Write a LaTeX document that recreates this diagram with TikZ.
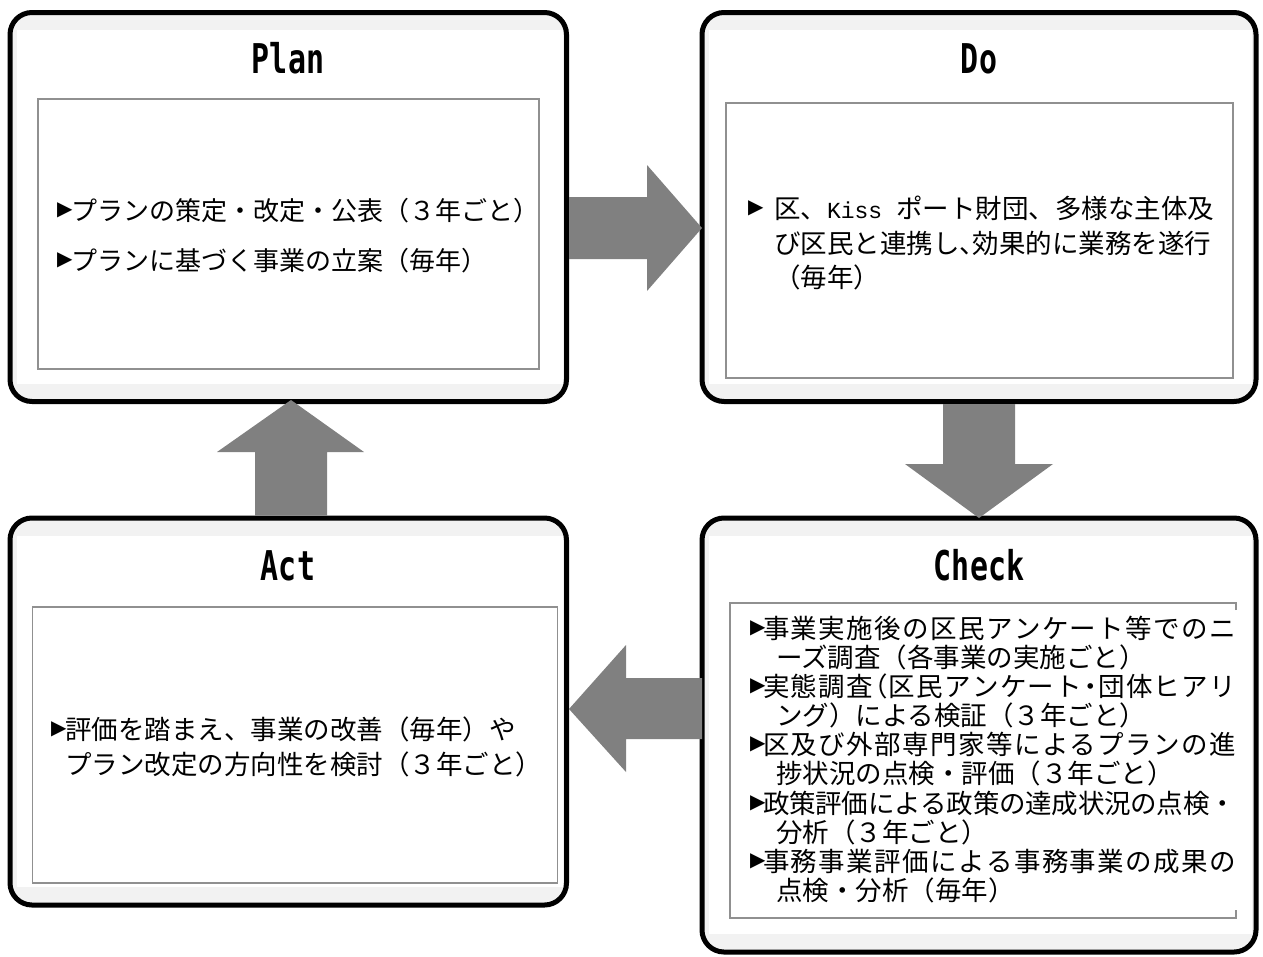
\documentclass[tikz,border=0pt]{standalone}
\usepackage{fontspec}
\usetikzlibrary{calc}
\newfontfamily\jp{Noto Sans CJK JP}
\newfontfamily\jph{Noto Sans CJK JP}[RawFeature=+halt]
\newfontfamily\trifont{DejaVu Sans}
\newfontfamily\ttlfont{DejaVu Sans Mono}
\newfontfamily\kmono{Liberation Mono}
\definecolor{boxgray}{HTML}{F2F2F2}
\definecolor{arrowgray}{HTML}{808080}
\definecolor{innergray}{HTML}{909090}
\newcommand\hw[1]{{\jph #1}}
\newcommand\bul[1]{\makebox[#1][l]{\raisebox{4.5pt}{\trifont\fontsize{20}{20}\selectfont ▶}}}
\makeatletter
\newcommand\spreadto[2]{\makebox[#1][s]{\@tfor\mych:=#2\do{\mych\hskip 0pt plus 1fil minus 1pt\relax}\unskip}}
\makeatother
\tikzset{
  outerbox/.style={draw=black, line width=5pt, fill=boxgray, rounded corners=22pt,
    inner sep=0pt, outer sep=0pt, anchor=north west},
  inbox/.style={draw=innergray, line width=1.3pt},
  blockarrow/.style={fill=arrowgray},
  ttl/.style={anchor=base, inner sep=0pt, font=\ttlfont\bfseries\fontsize{41}{41}\selectfont},
  txt/.style={anchor=base west, inner sep=0pt, outer sep=0pt, font=\jp\fontsize{26.5}{30}\selectfont},
  ptxt/.style={txt, font=\jp\fontsize{26}{30}\selectfont},
}
\begin{document}
\begin{tikzpicture}[x=1pt,y=-1pt]
\useasboundingbox (0,0) rectangle (1263,956);
% outer boxes
\node[outerbox, minimum width=556.5pt, minimum height=389pt] (plan) at (10,12.5) {};
\node[outerbox, minimum width=554pt, minimum height=389pt] (do) at (702,12.5) {};
\node[outerbox, minimum width=556.5pt, minimum height=387pt] (act) at (10,518) {};
\node[outerbox, minimum width=554pt, minimum height=434pt] (check) at (702,518) {};
% white areas
\foreach \b in {plan,do,act,check}{
  \fill[white] ($(\b.north west)+(7,17.5)$) rectangle ($(\b.south east)+(-4,-18)$);
}
% inner frames
\draw[inbox] (38,99) rectangle (539,369);
\draw[inbox] (726,103) rectangle (1233,378);
\draw[inbox] (32.5,607) rectangle (557.5,883);
\draw[inbox] (1236,610) -- (1236,603) -- (730,603) -- (730,918) -- (1236,918) -- (1236,910);
% titles
\node[ttl] (planT) at (288,73) {\scalebox{0.73}[1]{Plan}};
\node[ttl] (doT) at (979,73) {\scalebox{0.73}[1]{Do}};
\node[ttl] (actT) at (288,580) {\scalebox{0.73}[1]{Act}};
\node[ttl] (checkT) at (979,580) {\scalebox{0.73}[1]{Check}};
% Plan text
\node[ptxt] (p1) at (57,220) {\bul{14pt}プランの策定・改定・公表（３年ごと）};
\node[ptxt] (p2) at (57,270) {\bul{14pt}プランに基づく事業の立案（毎年）};
% Do text
\node[txt] (d1) at (748,218) {\bul{26pt}区、{\kmono\fontsize{23}{23}\selectfont Kiss }ポート財団、多様な主体及};
\node[txt] (d2) at (774,253) {び区民と連携し\hw{、}効果的に業務を遂行};
\node[txt] (d3) at (774,287) {（毎年）};
% Check text
\node[txt] (c1) at (750,638) {\bul{13pt}\spreadto{473pt}{事業実施後の区民アンケート等でのニ}};
\node[txt] (c2) at (776,667) {ーズ調査（各事業の実施ごと）};
\node[txt] (c3) at (750,696) {\bul{13pt}\spreadto{473pt}{実態調査{\hw{（}}区民アンケート{\hw{・}}団体ヒアリ}};
\node[txt] (c4) at (776,725) {ング）による検証（３年ごと）};
\node[txt] (c5) at (750,754) {\bul{13pt}\spreadto{473pt}{区及び外部専門家等によるプランの進}};
\node[txt] (c6) at (776,783) {捗状況の点検・評価（３年ごと）};
\node[txt] (c7) at (750,813) {\bul{13pt}\spreadto{473pt}{政策評価による政策の達成状況の点検・}};
\node[txt] (c8) at (776,842) {分析（３年ごと）};
\node[txt] (c9) at (750,871) {\bul{13pt}\spreadto{473pt}{事務事業評価による事務事業の成果の}};
\node[txt] (c10) at (776,900) {点検・分析（毎年）};
% Act text
\node[txt] (a1) at (51,739) {\bul{14pt}評価を踏まえ、事業の改善（毎年）や};
\node[txt] (a2) at (65,774) {プラン改定の方向性を検討（３年ごと）};
% block arrows
\fill[blockarrow] ($(plan.east |- 0,197)+(2.5,0)$) -- (647,197) -- (647,165) -- (do.west |- 0,228)
  -- (647,291) -- (647,259) -- ($(plan.east |- 0,259)+(2.5,0)$) -- cycle;
\fill[blockarrow] ($(do.south -| 943,0)+(0,2.5)$) -- (943,464) -- (905,464) -- (check.north)
  -- (1053,464) -- (1015,464) -- ($(do.south -| 1015,0)+(0,2.5)$) -- cycle;
\fill[blockarrow] (check.west |- 0,678) -- (626,678) -- (626,645) -- ($(act.east |- 0,709)+(2.5,0)$)
  -- (626,772) -- (626,739) -- (check.west |- 0,739) -- cycle;
\fill[blockarrow] ($(act.north -| 255,0)+(0,-2.5)$) -- (255,452) -- (217,452) -- ($(plan.south -| 291,0)+(0,-1.5)$)
  -- (364,452) -- (327,452) -- ($(act.north -| 327,0)+(0,-2.5)$) -- cycle;
\end{tikzpicture}
\end{document}
